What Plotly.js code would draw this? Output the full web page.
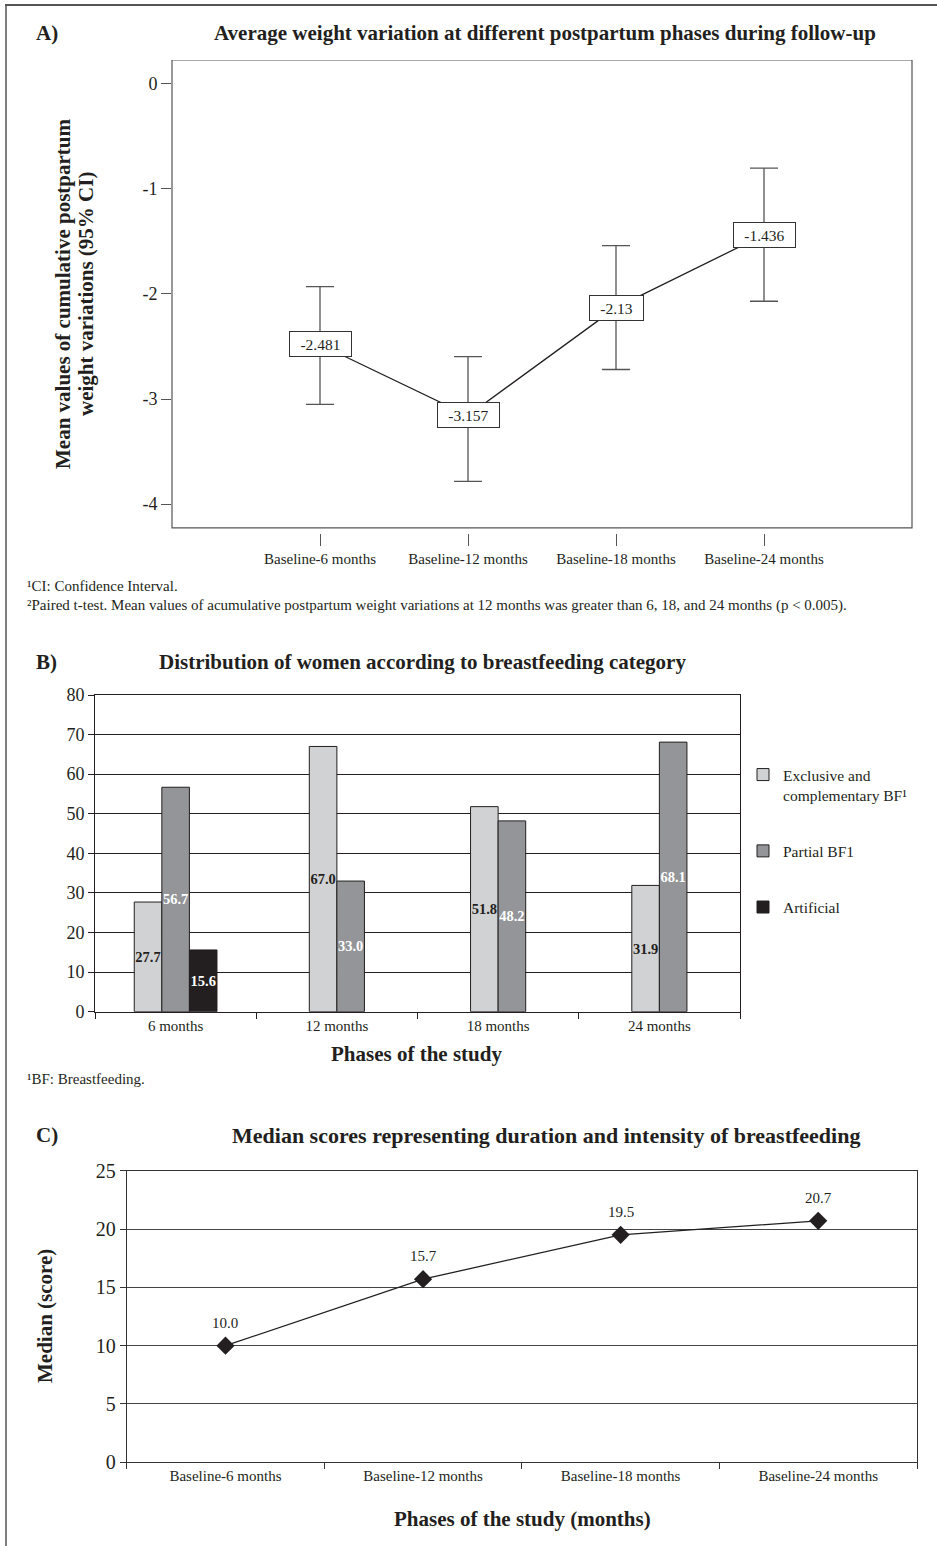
<!DOCTYPE html>
<html>
<head>
<meta charset="utf-8">
<script src="https://cdn.plot.ly/plotly-3.0.1.min.js"></script>
<style>html,body{margin:0;padding:0;background:#fff;} #chart{width:937px;height:1546px;}</style>
</head>
<body>
<div id="chart"></div>
<script>
// ---- Panel A data ----
const phasesA = ["Baseline-6 months", "Baseline-12 months", "Baseline-18 months", "Baseline-24 months"];
const meanA = [-2.481, -3.157, -2.13, -1.436];
const upperCI_A = [-1.93, -2.597, -1.54, -0.801];
const lowerCI_A = [-3.051, -3.785, -2.719, -2.069];
const yTickValsA = [0, -1, -2, -3, -4];
const yTickTextA = ["0", "-1", "-2", "-3", "-4"];

// ---- Panel B data ----
const phasesB = ["6 months", "12 months", "18 months", "24 months"];
const exclusiveBF = [27.7, 67.0, 51.8, 31.9];
const partialBF = [56.7, 33.0, 48.2, 68.1];
const artificialF = [15.6, null, null, null];
const seriesNamesB = ["Exclusive and<br>complementary BF¹", "Partial BF1", "Artificial"];

// ---- Panel C data ----
const phasesC = ["Baseline-6 months", "Baseline-12 months", "Baseline-18 months", "Baseline-24 months"];
const medianC = [10.0, 15.7, 19.5, 20.7];

// ---- helpers ----
const W = 937, H = 1546;
const px = v => v / W;
const py = v => 1 - v / H;
const FONT = "Liberation Serif, Times New Roman, serif";
const INK = "#231f20";

// bar geometry (category units)
const bw = 0.171;
const offExcl = [-1.5 * bw, -bw, -bw, -bw];
const offPart = [-0.5 * bw, 0, 0, 0];
const offArt = [0.5 * bw, 0, 0, 0];

// keep only the points that have a value (no empty bars / texts)
function present(xs, ys, offs) {
  const idx = ys.map((v, i) => i).filter(i => ys[i] !== null);
  return {x: idx.map(i => xs[i]), y: idx.map(i => ys[i]), offset: idx.map(i => offs[i])};
}
const pExcl = present(phasesB, exclusiveBF, offExcl);
const pPart = present(phasesB, partialBF, offPart);
const pArt = present(phasesB, artificialF, offArt);

const barText = {
  texttemplate: "<b>%{y:.1f}</b>", textposition: "inside", insidetextanchor: "middle", textangle: 0,
  constraintext: "none", hoverinfo: "skip", xaxis: "x2", yaxis: "y2", width: bw, type: "bar"
};

const traces = [
  {
    type: "scatter", mode: "lines", x: phasesA, y: meanA, xaxis: "x", yaxis: "y",
    line: {color: INK, width: 1.3}, showlegend: false, hoverinfo: "skip",
    error_y: {
      type: "data", symmetric: false,
      array: upperCI_A.map((u, i) => u - meanA[i]),
      arrayminus: lowerCI_A.map((l, i) => meanA[i] - l),
      color: "#555", thickness: 1.3, width: 14
    }
  },
  Object.assign({}, barText, {
    name: seriesNamesB[0], legendgroup: "g1", x: pExcl.x, y: pExcl.y, offset: pExcl.offset,
    marker: {color: "#d1d2d4", line: {color: INK, width: 1}},
    textfont: {family: FONT, size: 14.5, color: INK}
  }),
  Object.assign({}, barText, {
    name: seriesNamesB[1], legendgroup: "g2", x: pPart.x, y: pPart.y, offset: pPart.offset,
    marker: {color: "#939598", line: {color: INK, width: 1}},
    textfont: {family: FONT, size: 14.5, color: "#ffffff"}
  }),
  Object.assign({}, barText, {
    name: seriesNamesB[2], legendgroup: "g3", x: pArt.x, y: pArt.y, offset: pArt.offset,
    marker: {color: INK, line: {color: INK, width: 1}},
    textfont: {family: FONT, size: 14.5, color: "#ffffff"}
  }),
  {
    type: "scatter", mode: "lines+markers", x: phasesC, y: medianC, xaxis: "x3", yaxis: "y3",
    line: {color: INK, width: 1.3},
    marker: {symbol: "diamond", size: 14, color: INK},
    showlegend: false, hoverinfo: "skip"
  }
];

const annotations = [];
// mean label boxes for panel A
meanA.forEach((v, i) => {
  const t = String(v);
  annotations.push({
    xref: "x", yref: "y", x: phasesA[i], y: v, text: t, showarrow: false,
    font: {family: FONT, size: 15.5, color: INK},
    bgcolor: "#ffffff", bordercolor: "#333", borderwidth: 1, borderpad: 3,
    width: t.length * 7.8 + 8, height: 18, xanchor: "center", yanchor: "middle"
  });
});
// value labels for panel C
medianC.forEach((v, i) => {
  annotations.push({
    xref: "x3", yref: "y3", x: phasesC[i], y: v, text: v.toFixed(1), showarrow: false,
    font: {family: FONT, size: 15, color: INK}, yshift: 23, xanchor: "center", yanchor: "middle"
  });
});

function txt(text, x, y, size, opts) {
  return Object.assign({
    xref: "paper", yref: "paper", x: px(x), y: py(y), text: text, showarrow: false,
    font: {family: FONT, size: size, color: INK}, xanchor: "center", yanchor: "middle"
  }, opts || {});
}

annotations.push(txt("<b>A)</b>", 34, 33, 21, {xanchor: "left"}));
annotations.push(txt("<b>Average weight variation at different postpartum phases during follow-up</b>", 545, 33, 21));
annotations.push(txt("<b>Mean values of cumulative postpartum</b>", 63, 294, 21, {textangle: -90}));
annotations.push(txt("<b>weight variations (95% CI)</b>", 86, 294, 21, {textangle: -90}));
annotations.push(txt("¹CI: Confidence Interval.", 25, 586, 15, {xanchor: "left"}));
annotations.push(txt("²Paired t-test. Mean values of acumulative postpartum weight variations at 12 months was greater than 6, 18, and 24 months (p < 0.005).", 25, 605, 15, {xanchor: "left"}));

annotations.push(txt("<b>B)</b>", 34, 662, 21, {xanchor: "left"}));
annotations.push(txt("<b>Distribution of women according to breastfeeding category</b>", 422, 662, 21));
annotations.push(txt("<b>Phases of the study</b>", 416, 1054, 21));
annotations.push(txt("¹BF: Breastfeeding.", 25, 1079, 15, {xanchor: "left"}));

annotations.push(txt("<b>C)</b>", 34, 1135, 21, {xanchor: "left"}));
annotations.push(txt("<b>Median scores representing duration and intensity of breastfeeding</b>", 546, 1135, 22));
annotations.push(txt("<b>Median (score)</b>", 45, 1316, 21, {textangle: -90}));
annotations.push(txt("<b>Phases of the study (months)</b>", 522, 1519, 21));

const shapes = [
  // page frame
  {type: "line", xref: "paper", yref: "paper", x0: px(5), x1: 1, y0: py(5), y1: py(5), line: {color: "#555", width: 2}},
  {type: "line", xref: "paper", yref: "paper", x0: px(6), x1: px(6), y0: 0, y1: py(5), line: {color: "#555", width: 1.5}},
  // panel A box
  {type: "rect", xref: "x domain", yref: "y", x0: 0, x1: 1, y0: -4.228, y1: 0.228, line: {color: "#555", width: 1.2}, layer: "below"}
];

const layout = {
  width: W, height: H,
  margin: {l: 0, r: 0, t: 0, b: 0, pad: 0},
  paper_bgcolor: "#ffffff", plot_bgcolor: "rgba(0,0,0,0)",
  font: {family: FONT, color: INK},
  barmode: "overlay",
  showlegend: true,
  legend: {
    x: px(743), y: py(758), xanchor: "left", yanchor: "top",
    font: {family: FONT, size: 15.5, color: INK}, tracegroupgap: 33, valign: "top",
    bgcolor: "rgba(0,0,0,0)", borderwidth: 0
  },
  xaxis: {
    domain: [px(172), px(912)], anchor: "y", type: "category", range: [-1, 4],
    showgrid: false, zeroline: false, showline: false,
    ticks: "outside", ticklen: 12, tickcolor: "#555", tickwidth: 1,
    tickfont: {family: FONT, size: 15, color: INK}, fixedrange: true
  },
  yaxis: {
    domain: [py(533), py(60)], anchor: "x", range: [-4.276, 0.228],
    tickvals: yTickValsA, ticktext: yTickTextA,
    showgrid: false, zeroline: false, showline: false,
    ticks: "outside", ticklen: 10, tickcolor: "#555", tickwidth: 1,
    tickfont: {family: FONT, size: 18, color: INK}, fixedrange: true
  },
  xaxis2: {
    domain: [px(95), px(740)], anchor: "y2", type: "category", range: [-0.5, 3.5],
    tickson: "boundaries", ticks: "outside", ticklen: 6, tickcolor: INK,
    showgrid: false, zeroline: false, showline: true, mirror: true, linecolor: INK, linewidth: 1,
    tickfont: {family: FONT, size: 15, color: INK}, fixedrange: true
  },
  yaxis2: {
    domain: [py(1011.7), py(695)], anchor: "x2", range: [0, 80], dtick: 10, tick0: 0,
    showgrid: true, gridcolor: INK, gridwidth: 1, zeroline: false,
    showline: true, mirror: true, linecolor: INK, linewidth: 1,
    ticks: "outside", ticklen: 6, tickcolor: INK,
    tickfont: {family: FONT, size: 18, color: INK}, fixedrange: true
  },
  xaxis3: {
    domain: [px(126.7), px(917)], anchor: "y3", type: "category", range: [-0.5, 3.5],
    tickson: "boundaries", ticks: "outside", ticklen: 6, tickcolor: "#333",
    showgrid: false, zeroline: false, showline: true, mirror: true, linecolor: "#333", linewidth: 1,
    tickfont: {family: FONT, size: 15, color: INK}, fixedrange: true
  },
  yaxis3: {
    domain: [py(1462.3), py(1170.7)], anchor: "x3", range: [0, 25], dtick: 5, tick0: 0,
    showgrid: true, gridcolor: "#444", gridwidth: 1, zeroline: false,
    showline: true, mirror: true, linecolor: "#333", linewidth: 1,
    ticks: "outside", ticklen: 6, tickcolor: "#333",
    tickfont: {family: FONT, size: 20, color: INK}, fixedrange: true
  },
  annotations: annotations,
  shapes: shapes
};

Plotly.newPlot("chart", traces, layout, {staticPlot: true, displayModeBar: false});
</script>
</body>
</html>
